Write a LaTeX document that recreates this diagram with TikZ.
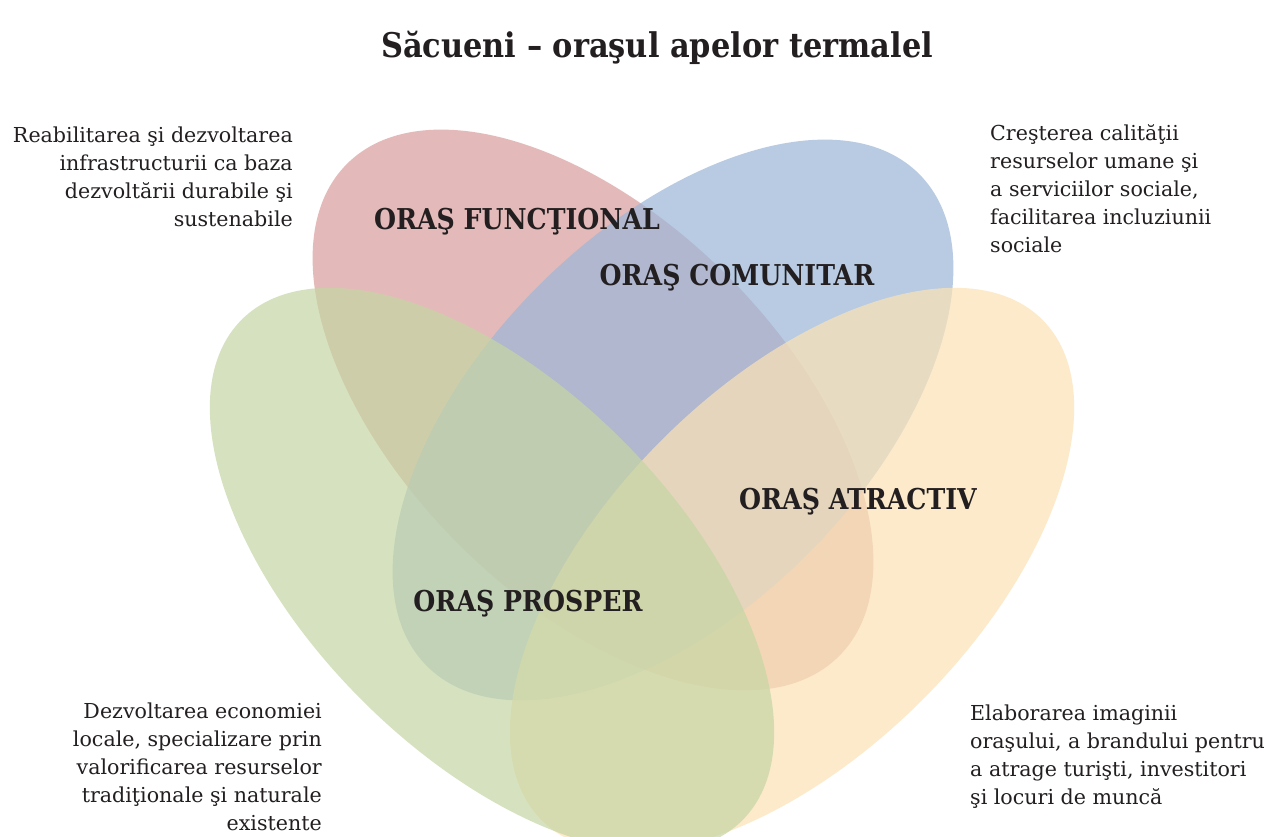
\documentclass[tikz,border=0pt]{standalone}
\usepackage{fontspec}
\setmainfont{DejaVu Serif}
\definecolor{redc}{RGB}{216,158,156}
\definecolor{bluec}{RGB}{155,182,216}
\definecolor{yellowc}{RGB}{251,226,181}
\definecolor{greenc}{RGB}{198,214,164}
\definecolor{txt}{RGB}{35,31,32}
\newcommand{\narrow}[2]{\scalebox{#1}[1]{#2}}
\begin{document}
\begin{tikzpicture}[x=1pt,y=-1pt,
  petal/.style={fill opacity=0.7},
  lbl/.style={font=\fontsize{28.7}{32}\selectfont\bfseries, inner sep=0, text=txt},
  desc/.style={font=\fontsize{20.6}{28}\selectfont, inner sep=0, text=txt},
  ttl/.style={font=\fontsize{34}{38}\selectfont\bfseries, inner sep=0, text=txt}]
\useasboundingbox (0,0) rectangle (1267,836);
\fill[white] (0,0) rectangle (1267,836);
\begin{scope}[shift={(593,410)},rotate=-45]
  \fill[redc,petal] (0,0) ellipse [x radius=348,y radius=190];
\end{scope}
\begin{scope}[shift={(673,420)},rotate=45]
  \fill[bluec,petal] (0,0) ellipse [x radius=348,y radius=190];
\end{scope}
\begin{scope}[shift={(792,570)},rotate=45]
  \fill[yellowc,petal] (0,0) ellipse [x radius=354,y radius=184];
\end{scope}
\begin{scope}[shift={(492,570)},rotate=-45]
  \fill[greenc,petal] (0,0) ellipse [x radius=354,y radius=184];
\end{scope}
\node[ttl, anchor=base] (title) at (657,57) {\narrow{0.895}{Săcueni – oraşul apelor termalel}};
\node[lbl] (func) at (517,222) {\narrow{0.88}{ORAŞ FUNCŢIONAL}};
\node[lbl] (comun) at (737,278) {\narrow{0.88}{ORAŞ COMUNITAR}};
\node[lbl] (atract) at (858,502) {\narrow{0.88}{ORAŞ ATRACTIV}};
\node[lbl] (prosper) at (528,604) {\narrow{0.88}{ORAŞ PROSPER}};
\node[desc, anchor=north east, align=right] (dfunc) at (293,127)
  {Reabilitarea şi dezvoltarea\\infrastructurii ca baza\\dezvoltării durabile şi\\sustenabile};
\node[desc, anchor=north west, align=left] (dcomun) at (990,124)
  {Creşterea calităţii\\resurselor umane şi\\a serviciilor sociale,\\facilitarea incluziunii\\sociale};
\node[desc, anchor=north east, align=right] (dprosper) at (322,703)
  {Dezvoltarea economiei\\locale, specializare prin\\valorificarea resurselor\\tradiţionale şi naturale\\existente};
\node[desc, anchor=north west, align=left] (datract) at (970,705)
  {Elaborarea imaginii\\oraşului, a brandului pentru\\a atrage turişti, investitori\\şi locuri de muncă};
\end{tikzpicture}
\end{document}
